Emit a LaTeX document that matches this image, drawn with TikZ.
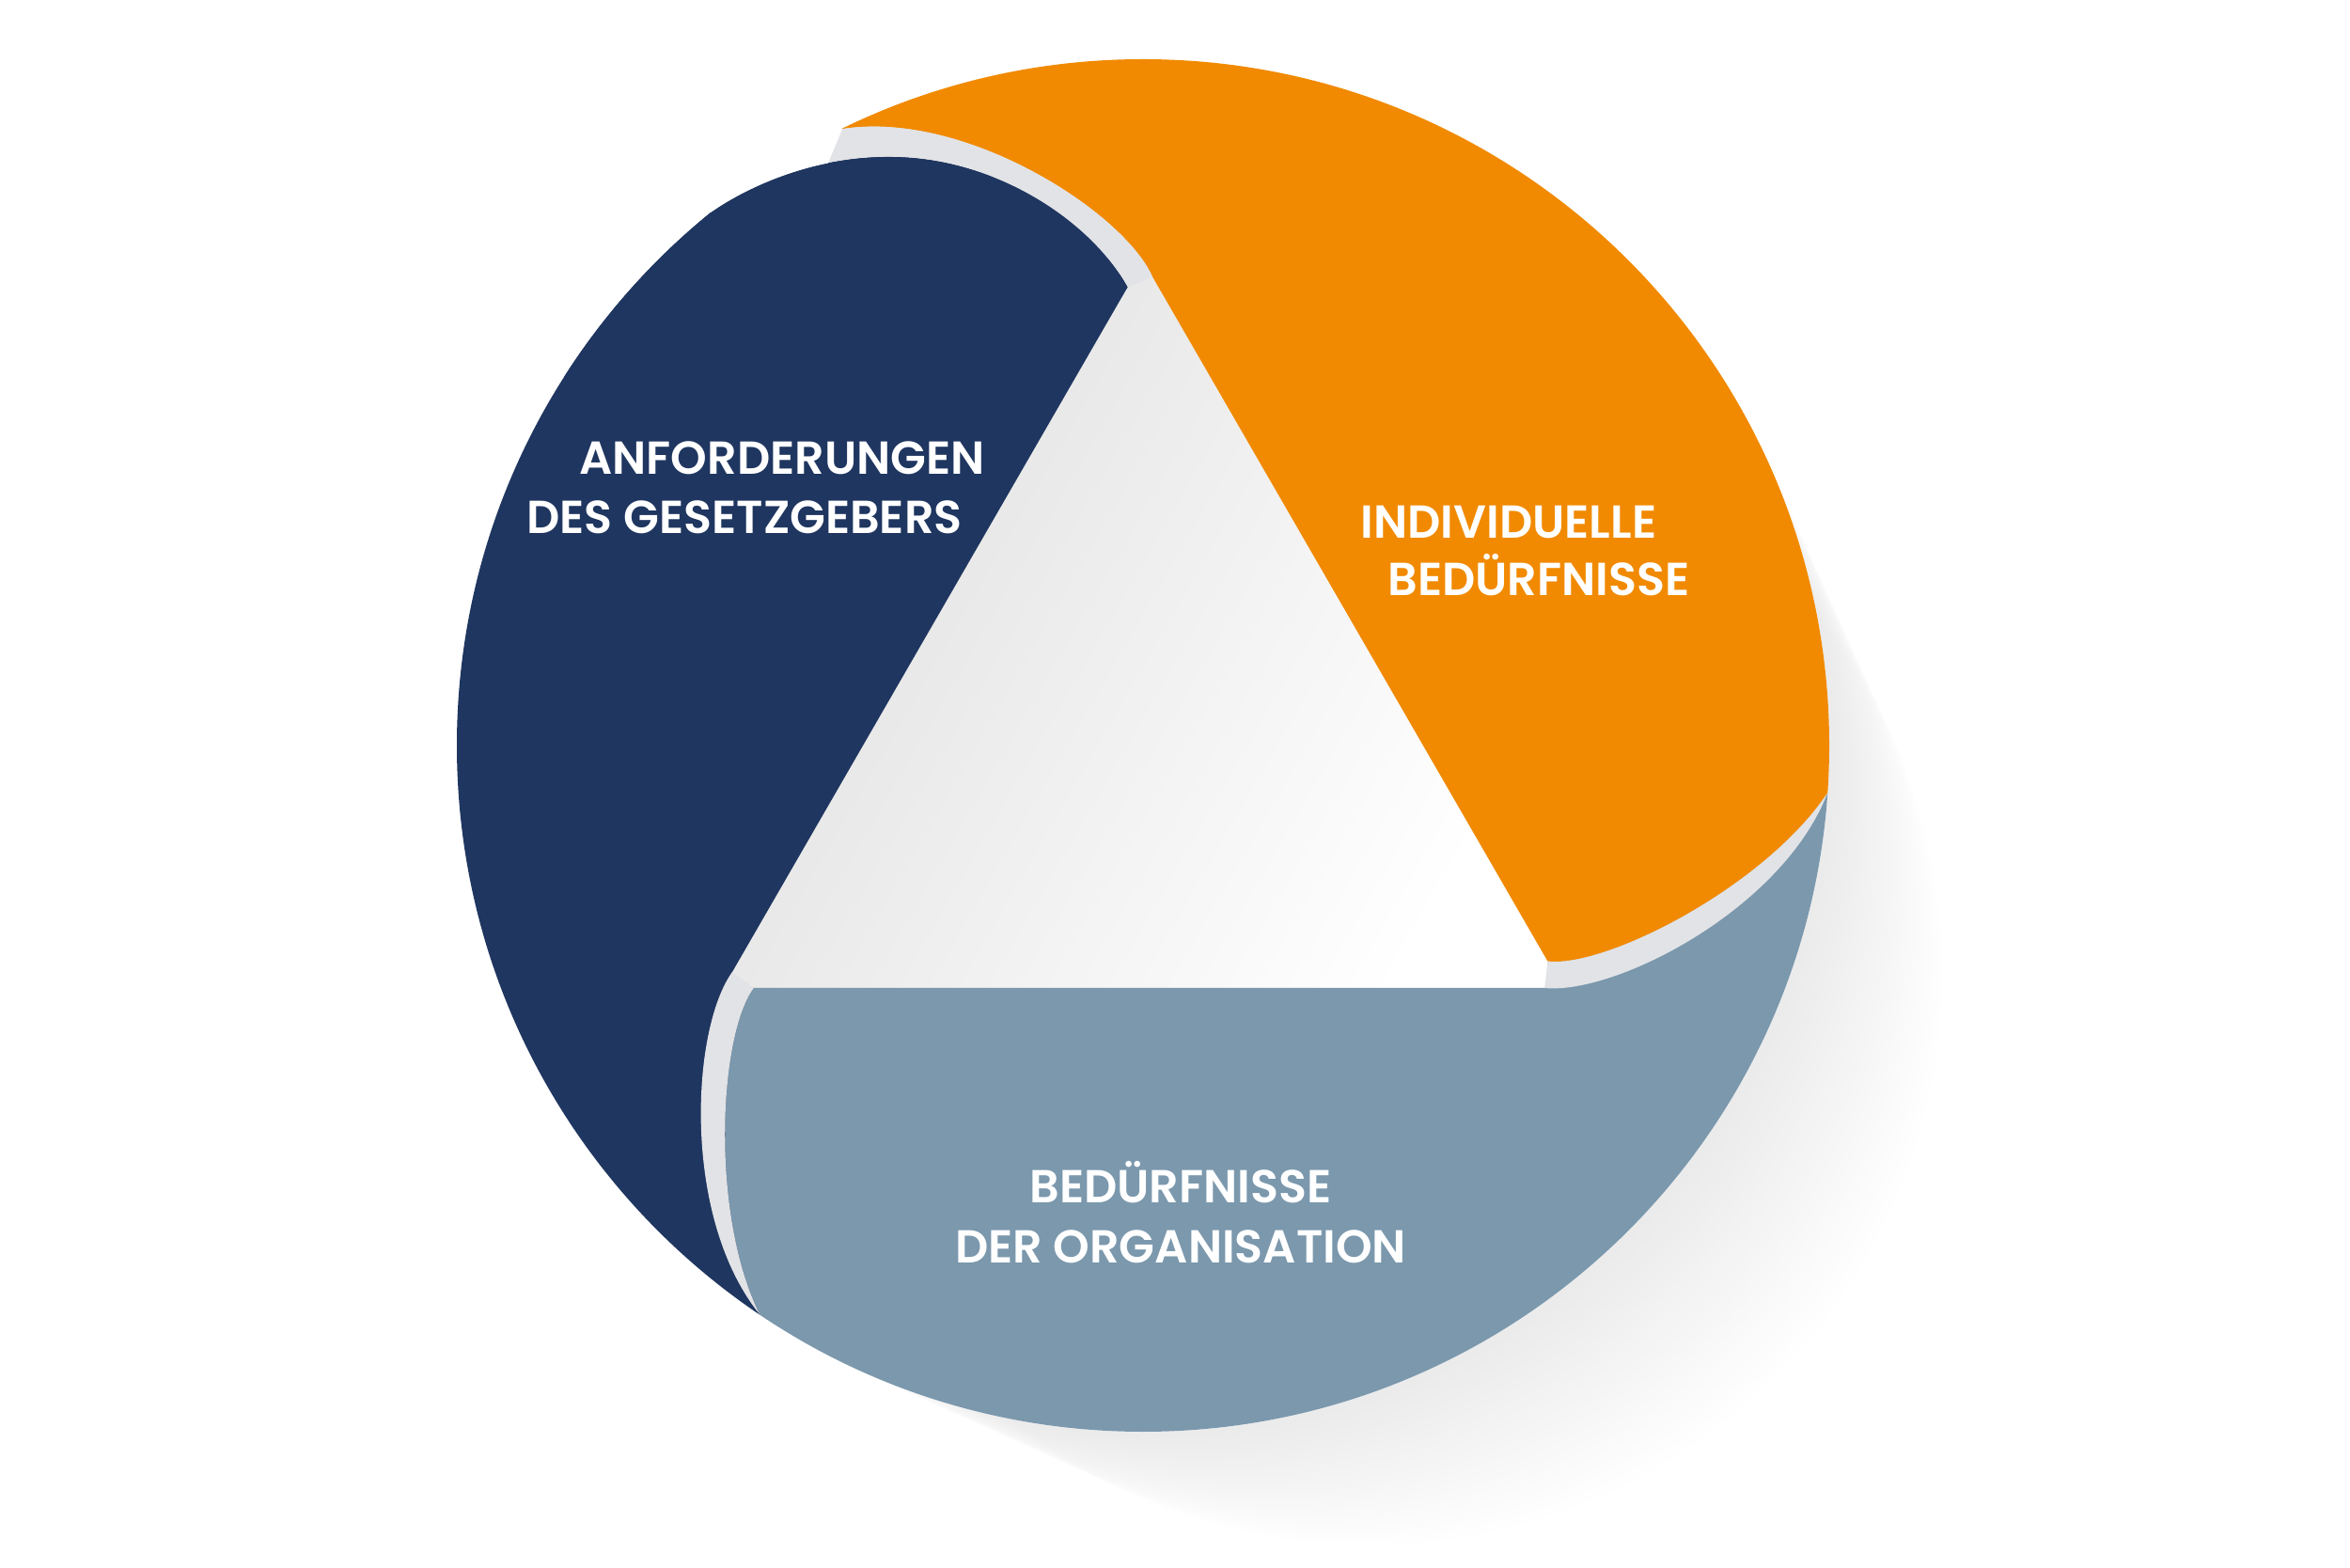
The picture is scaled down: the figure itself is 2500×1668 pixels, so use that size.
\documentclass[tikz,border=0pt]{standalone}
\usepackage{fontspec}
\newfontfamily\labelfont{Poppins}[BoldFont={Poppins SemiBold}]

\definecolor{navyseg}{RGB}{31,54,96}
\definecolor{orangeseg}{RGB}{241,138,0}
\definecolor{blueseg}{RGB}{123,152,173}
\definecolor{bandgray}{RGB}{226,227,230}

\tikzset{
  lbl/.style={text=white, font=\labelfont\bfseries\fontsize{14}{17}\selectfont, inner sep=0pt, anchor=base},
  band/.style={fill=bandgray},
}

% one segment, drawn in the frame of the lower one
\def\segbody{(802,1051) -- (1659,1051) -- (1646.4,1022.5) .. controls (1707.4,1030.1) and (1876.9,943.7) .. (1943.9,843.8) -- (2214,863) -- (1935,1488) -- (1321,1788) -- (657,1622) -- (808,1398) .. controls (755,1290) and (765,1100) .. (802,1051) -- cycle}
\def\segband{(779,1034) .. controls (735,1095) and (725,1295) .. (808,1398) .. controls (755,1290) and (765,1100) .. (802,1051) -- cycle}
\def\navydome{(1199.6,305.5) .. controls (1160,235) and (1060,168) .. (949,167) .. controls (925.3,166.7) and (902.4,169.1) .. (880.9,173.5) .. controls (830.7,183.6) and (786,205) .. (756,226)}

\begin{document}
\begin{tikzpicture}[x=0.1mm, y=-0.1mm]
    \useasboundingbox (0,0) rectangle (2500,1668);
    \fill[white] (0,0) rectangle (2500,1668);
    \coordinate (O) at (1216,793);

    % soft shadow
    \foreach \i in {1,...,20}
        \fill[black, opacity=0.0055] (1216+\i*12,793+\i*12) circle (730-\i*6);
    \fill[white] (O) circle (730);

    \shade[top color=black!12, bottom color=white, shading angle=60] (1216,277) -- (769,1051) -- (1663,1051) -- cycle;

    \begin{scope}
        \clip (O) circle (730);
        \fill[blueseg] \segbody;
        \fill[navyseg, rotate around={-120:(O)}] \segbody;
        \fill[orangeseg, rotate around={120:(O)}] \segbody;
        \fill[band] \segband;
        \fill[band, rotate around={-120:(O)}] \segband;
        \fill[band, rotate around={120:(O)}] \segband;
        % the upper head is rounder
        \fill[band] (896.1,137.2) .. controls (1026.8,116.8) and (1195,225.5) .. (1225.8,294.1) -- \navydome -- (700,100) -- cycle;
        \fill[navyseg] \navydome -- (600,300) -- (600,500) -- (1050,500) -- cycle;
    \end{scope}
    \fill[white] (896.1,137.2) -- (880.9,173.5) .. controls (830.7,183.6) and (786,205) .. (756,226) -- (735,195) -- (650,100) -- cycle;

    \node[lbl] (anf1) at (832,505) {ANFORDERUNGEN};
    \node[lbl] (anf2) at (792,568) {DES GESETZGEBERS};
    \node[lbl] (ind1) at (1605,573) {INDIVIDUELLE};
    \node[lbl] (ind2) at (1637,634) {BEDÜRFNISSE};
    \node[lbl] (org1) at (1256,1279) {BEDÜRFNISSE};
    \node[lbl] (org2) at (1256,1343) {DER ORGANISATION};
\end{tikzpicture}
\end{document}
